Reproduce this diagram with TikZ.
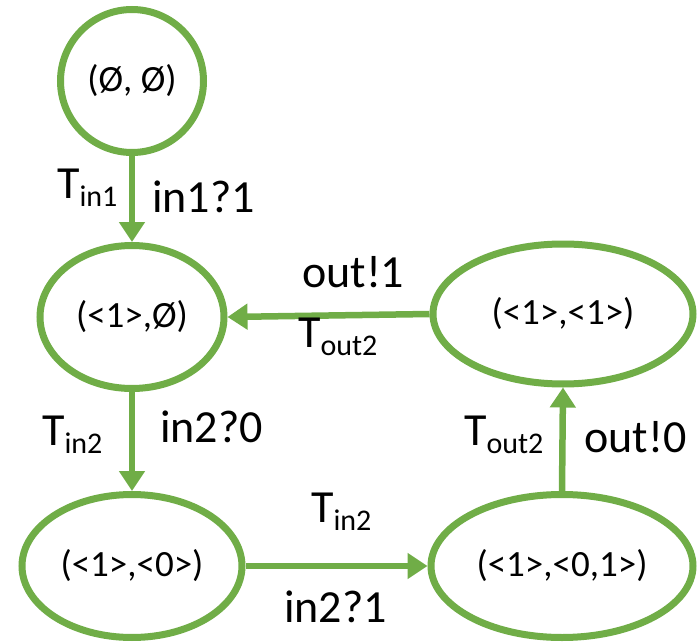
\documentclass[tikz,border=0pt]{standalone}
\usepackage{fontspec}
\setmainfont{Carlito}
\usetikzlibrary{arrows.meta,shapes.geometric}
\definecolor{grn}{HTML}{70AD47}
\newcommand{\Tsb}[1]{T\raisebox{-8pt}{\fontsize{30}{32}\selectfont #1}}
\tikzset{
  state/.style={draw=grn, line width=7pt, fill=white, inner sep=0pt,
    font=\fontsize{37}{40}\selectfont},
  ell/.style={state, ellipse},
  circ/.style={state, circle},
  trans/.style={draw=grn, line width=6.5pt,
    -{Triangle[width=25pt,length=20pt]}},
  lbl/.style={inner sep=0pt, anchor=base west, font=\fontsize{46}{50}\selectfont}
}
\begin{document}
\begin{tikzpicture}[x=1pt,y=-1pt]
\useasboundingbox (0,0) rectangle (697,642);
\node[circ, minimum size=143pt] (s0) at (132,81) {(Ø, Ø)};
\node[ell, minimum width=184pt, minimum height=143pt] (s1) at (132,317) {(<1>,Ø)};
\node[ell, minimum width=260pt, minimum height=140pt] (s2) at (563,314) {(<1>,<1>)};
\node[ell, minimum width=220pt, minimum height=143pt] (s3) at (132,566) {(<1>,<0>)};
\node[ell, minimum width=262pt, minimum height=143pt] (s4) at (562,566) {(<1>,<0,1>)};
\draw[trans] (s0.south) -- (s1.north);
\draw[trans] (s2.west) -- (s1.east);
\draw[trans] (s1.south) -- (s3.north);
\draw[trans] (s3.east) -- (s4.west);
\draw[trans] (s4.north) -- (s2.south);
\node[lbl] (l1a) at (57,198) {\Tsb{in1}};
\node[lbl] (l1b) at (152,212) {in1?1};
\node[lbl] (l2a) at (302,287) {out!1};
\node[lbl] (l2b) at (298,347) {\Tsb{out2}};
\node[lbl] (l3a) at (42,445) {\Tsb{in2}};
\node[lbl] (l3b) at (160,442) {in2?0};
\node[lbl] (l4a) at (311,522) {\Tsb{in2}};
\node[lbl] (l4b) at (284,622) {in2?1};
\node[lbl] (l5a) at (464,445) {\Tsb{out2}};
\node[lbl] (l5b) at (584,452) {out!0};
\end{tikzpicture}
\end{document}
